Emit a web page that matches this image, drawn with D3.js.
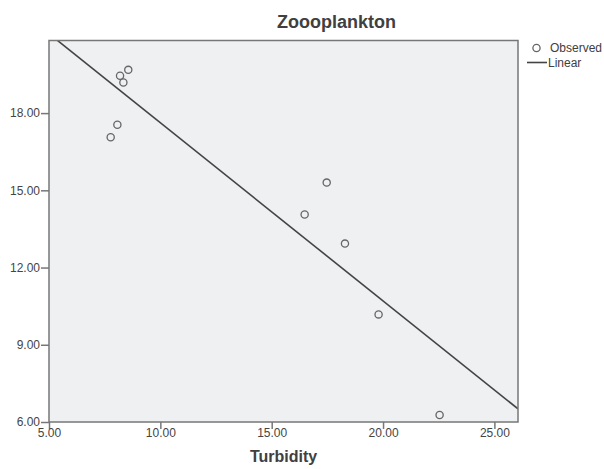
<!DOCTYPE html>
<html>
<head>
<meta charset="utf-8">
<script src="https://cdn.jsdelivr.net/npm/d3@7"></script>
<style>
  body { margin: 0; background: #fff; }
  text { font-family: Arial, "Liberation Sans", sans-serif; fill: #404040; }
</style>
</head>
<body>
<div id="chart"></div>
<script>
const widthValue = 604;
const heightValue = 469;
const margin = {top: 40.5, right: 86, bottom: 47, left: 49};

const turbidity   = [8.56, 8.19, 8.34, 8.07, 7.77, 17.47, 16.48, 18.29, 19.80, 22.54];
const zooplankton = [19.68, 19.45, 19.19, 17.55, 17.06, 15.30, 14.06, 12.93, 10.18, 6.27];
const xTicks = [5, 10, 15, 20, 25];
const yTicks = [6, 9, 12, 15, 18];

const points = turbidity.map((t, i) => ({x: t, y: zooplankton[i]}));

// least squares line (the "Linear" fit)
const mx = d3.mean(turbidity), my = d3.mean(zooplankton);
const slope = d3.sum(points, d => (d.x - mx) * (d.y - my)) / d3.sum(points, d => (d.x - mx) ** 2);
const intercept = my - slope * mx;

const svg = d3.select("#chart")
  .append("svg")
  .attr("width", widthValue)
  .attr("height", heightValue);

const x = d3.scaleLinear()
  .domain([5, 26.06])
  .range([margin.left, widthValue - margin.right]);
const y = d3.scaleLinear()
  .domain([6, 20.82])
  .range([heightValue - margin.bottom, margin.top]);

const fmt = d3.format(".2f");

// plot background
svg.append("rect")
  .attr("x", x.range()[0])
  .attr("y", y.range()[1])
  .attr("width", x.range()[1] - x.range()[0])
  .attr("height", y.range()[0] - y.range()[1])
  .style("fill", "#eff0f2");

svg.append("clipPath").attr("id", "clip")
  .append("rect")
  .attr("x", x.range()[0])
  .attr("y", y.range()[1])
  .attr("width", x.range()[1] - x.range()[0])
  .attr("height", y.range()[0] - y.range()[1]);

// fit line
const xd = x.domain();
svg.append("line")
  .attr("clip-path", "url(#clip)")
  .attr("x1", x(xd[0])).attr("y1", y(intercept + slope * xd[0]))
  .attr("x2", x(xd[1])).attr("y2", y(intercept + slope * xd[1]))
  .style("stroke", "#444")
  .style("stroke-width", 1.6);

// points
svg.append("g")
  .selectAll("circle")
  .data(points)
  .join("circle")
  .attr("cx", d => x(d.x))
  .attr("cy", d => y(d.y))
  .attr("r", 3.6)
  .style("fill", "none")
  .style("stroke", "#666")
  .style("stroke-width", 1.3);

// axes
const xAxis = svg.append("g")
  .attr("transform", `translate(0,${y.range()[0]})`)
  .call(d3.axisBottom(x).tickValues(xTicks).tickFormat(fmt).tickSize(7).tickSizeOuter(0));
const yAxis = svg.append("g")
  .attr("transform", `translate(${x.range()[0]},0)`)
  .call(d3.axisLeft(y).tickValues(yTicks).tickFormat(fmt).tickSize(8).tickSizeOuter(0));

[xAxis, yAxis].forEach(a => {
  a.select(".domain").remove();
  a.selectAll("line").style("stroke", "#777").style("stroke-width", 1.5);
  a.selectAll("text")
    .style("font-size", "12px")
    .style("fill", "#444")
    .style("font-family", "Arial, 'Liberation Sans', sans-serif");
});
xAxis.selectAll("text").attr("dy", "0.6em").attr("y", 8);
yAxis.selectAll("text").attr("x", -9);

// frame
svg.append("rect")
  .attr("x", x.range()[0])
  .attr("y", y.range()[1])
  .attr("width", x.range()[1] - x.range()[0])
  .attr("height", y.range()[0] - y.range()[1])
  .style("fill", "none")
  .style("stroke", "#777")
  .style("stroke-width", 1.5);

// titles
svg.append("text")
  .attr("x", 277).attr("y", 28)
  .style("font-size", "18px").style("font-weight", "bold")
  .text("Zoooplankton");
svg.append("text")
  .attr("x", (x.range()[0] + x.range()[1]) / 2).attr("y", 462)
  .attr("text-anchor", "middle")
  .style("font-size", "16px").style("font-weight", "bold")
  .text("Turbidity");

// legend
const legend = svg.append("g");
legend.append("circle")
  .attr("cx", 536.5).attr("cy", 48)
  .attr("r", 3.6)
  .style("fill", "none").style("stroke", "#666").style("stroke-width", 1.3);
legend.append("text")
  .attr("x", 550).attr("y", 52)
  .style("font-size", "12px")
  .text("Observed");
legend.append("line")
  .attr("x1", 527).attr("x2", 547)
  .attr("y1", 62.5).attr("y2", 62.5)
  .style("stroke", "#444").style("stroke-width", 1.6);
legend.append("text")
  .attr("x", 548).attr("y", 67)
  .style("font-size", "12px")
  .text("Linear");
</script>
</body>
</html>
